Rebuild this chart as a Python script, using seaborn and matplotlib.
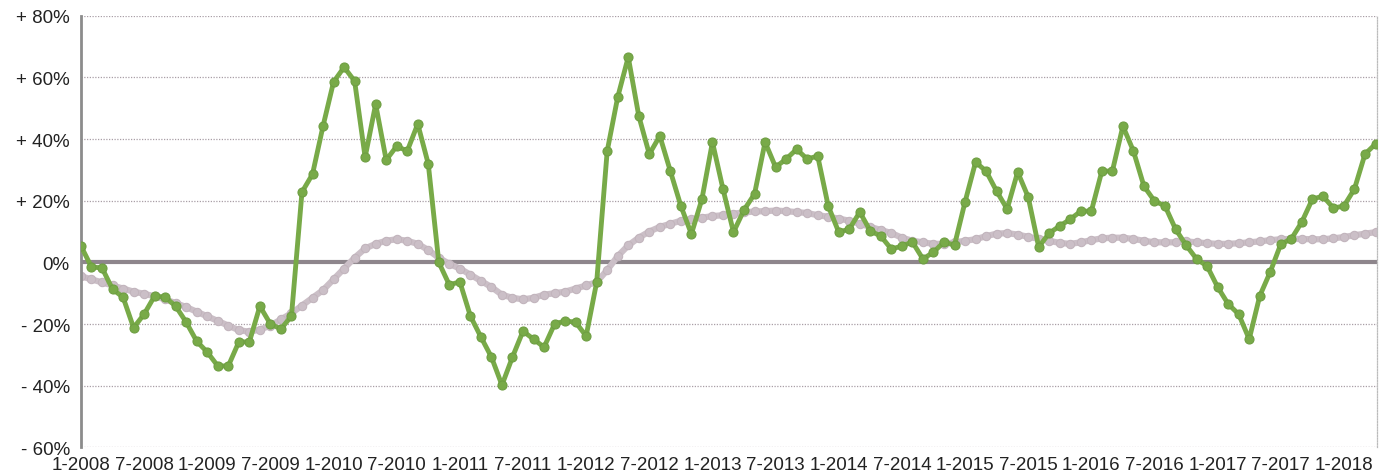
import pandas as pd
import seaborn as sns
import matplotlib.pyplot as plt

# monthly values, 1-2008 .. 4-2018
green = [5.3, -1.5, -1.8, -8.7, -11.3, -21.2, -16.8, -10.9, -11.3, -14.2,
         -19.4, -25.6, -29.1, -33.6, -33.6, -25.8, -25.8, -14.2, -20.0, -21.6,
         -17.4, 22.8, 28.6, 44.2, 58.5, 63.3, 58.8, 34.1, 51.3, 33.2,
         37.7, 36.1, 44.9, 31.9, 0.0, -7.3, -6.3, -17.4, -24.2, -30.7,
         -39.8, -30.7, -22.3, -24.9, -27.5, -20.0, -19.0, -19.4, -23.9, -6.4,
         36.1, 53.6, 66.6, 47.5, 35.1, 41.0, 29.6, 18.3, 9.2, 20.5,
         39.0, 23.8, 9.8, 17.0, 22.2, 39.0, 30.9, 33.5, 36.7, 33.5,
         34.5, 18.3, 9.8, 10.8, 16.3, 10.2, 8.5, 4.3, 5.3, 6.6,
         1.1, 3.3, 6.6, 5.6, 19.6, 32.5, 29.6, 23.1, 17.3, 29.3,
         21.2, 5.0, 9.5, 11.8, 14.0, 16.6, 16.6, 29.6, 29.6, 44.2,
         36.1, 24.7, 19.9, 18.3, 10.8, 5.6, 1.1, -1.2, -8.0, -13.5,
         -16.8, -24.9, -10.9, -3.1, 5.9, 7.6, 13.1, 20.5, 21.5, 17.6,
         18.3, 23.8, 35.1, 38.4]

grey = [-4.5, -5.5, -6.5, -7.5, -8.5, -9.5, -10.2, -11.0, -12.0, -13.2,
        -14.5, -16.0, -17.5, -19.0, -20.5, -22.0, -22.5, -21.8, -20.5, -18.5,
        -16.5, -14.0, -11.5, -9.0, -5.5, -2.0, 1.5, 4.5, 6.0, 7.0,
        7.5, 7.0, 6.0, 4.0, 1.5, -0.5, -2.0, -4.0, -6.0, -8.0,
        -10.5, -11.5, -12.0, -11.5, -10.5, -10.0, -9.5, -8.5, -7.5, -6.4,
        -2.5, 2.0, 5.5, 8.0, 10.0, 11.5, 12.5, 13.5, 14.0, 14.5,
        15.0, 15.3, 15.8, 16.2, 16.5, 16.6, 16.8, 16.6, 16.3, 16.0,
        15.3, 14.8, 14.2, 13.5, 12.5, 11.5, 10.5, 9.5, 8.0, 7.0,
        6.5, 6.0, 6.0, 6.5, 7.0, 7.5, 8.5, 9.3, 9.5, 9.0,
        8.3, 7.6, 7.0, 6.3, 6.0, 6.5, 7.2, 7.8, 8.0, 8.0,
        7.6, 7.0, 6.5, 6.5, 6.5, 6.8, 6.5, 6.2, 6.0, 6.0,
        6.2, 6.5, 6.8, 7.2, 7.5, 7.6, 7.6, 7.5, 7.5, 7.8,
        8.2, 8.8, 9.3, 9.8]

tick_labels = ["1-2008", "7-2008", "1-2009", "7-2009", "1-2010", "7-2010",
               "1-2011", "7-2011", "1-2012", "7-2012", "1-2013", "7-2013",
               "1-2014", "7-2014", "1-2015", "7-2015", "1-2016", "7-2016",
               "1-2017", "7-2017", "1-2018"]
y_ticks = [-60, -40, -20, 0, 20, 40, 60, 80]
y_labels = ["- 60%", "- 40%", "- 20%", "0%", "+ 20%", "+ 40%", "+ 60%", "+ 80%"]

df = pd.DataFrame({"month": range(len(green)), "green": green, "grey": grey})

sns.set_style("white")
plt.rcParams["font.family"] = ["Liberation Sans", "DejaVu Sans"]

fig = plt.figure(figsize=(13.84, 4.77), dpi=100)
ax = fig.add_axes([0.0585, 0.060, 0.9365, 0.905])

for y in y_ticks:
    if y != 0:
        ax.axhline(y, color="#a99fa6", lw=0.9, ls=(0, (1, 1.2)), zorder=0)
ax.axhline(0, color="#8e868c", lw=3, zorder=1)

sns.lineplot(data=df, x="month", y="grey", ax=ax, color="#cbbfc7", lw=4.5,
             marker="o", markersize=6, markeredgecolor="#c2b5bd",
             markeredgewidth=0.8, zorder=2)
sns.lineplot(data=df, x="month", y="green", ax=ax, color="#78aa48", lw=3.5,
             marker="o", markersize=6.5, markeredgecolor="#6e9e42",
             markeredgewidth=0.8, zorder=3)

ax.set_xlim(0, len(green) - 1 + 0.15)
ax.set_ylim(-60, 80)
ax.set_xticks(range(0, len(green), 6))
ax.set_xticklabels(tick_labels, fontsize=13.5, color="#222222")
ax.set_yticks(y_ticks)
ax.set_yticklabels(y_labels, fontsize=13.5, color="#222222")
ax.set_xlabel("")
ax.set_ylabel("")

ax.tick_params(axis="x", length=0, pad=6)
ax.tick_params(axis="y", length=4, width=1.2, color="#8c8c8c", pad=4)

for side in ["top", "bottom"]:
    ax.spines[side].set_visible(False)
ax.spines["left"].set_color("#8c8c8c")
ax.spines["left"].set_linewidth(2)
ax.spines["right"].set_color("#bbbbbb")
ax.spines["right"].set_linewidth(0.9)
ax.spines["right"].set_linestyle((0, (1, 1.2)))

plt.savefig("out.png", dpi=100)
